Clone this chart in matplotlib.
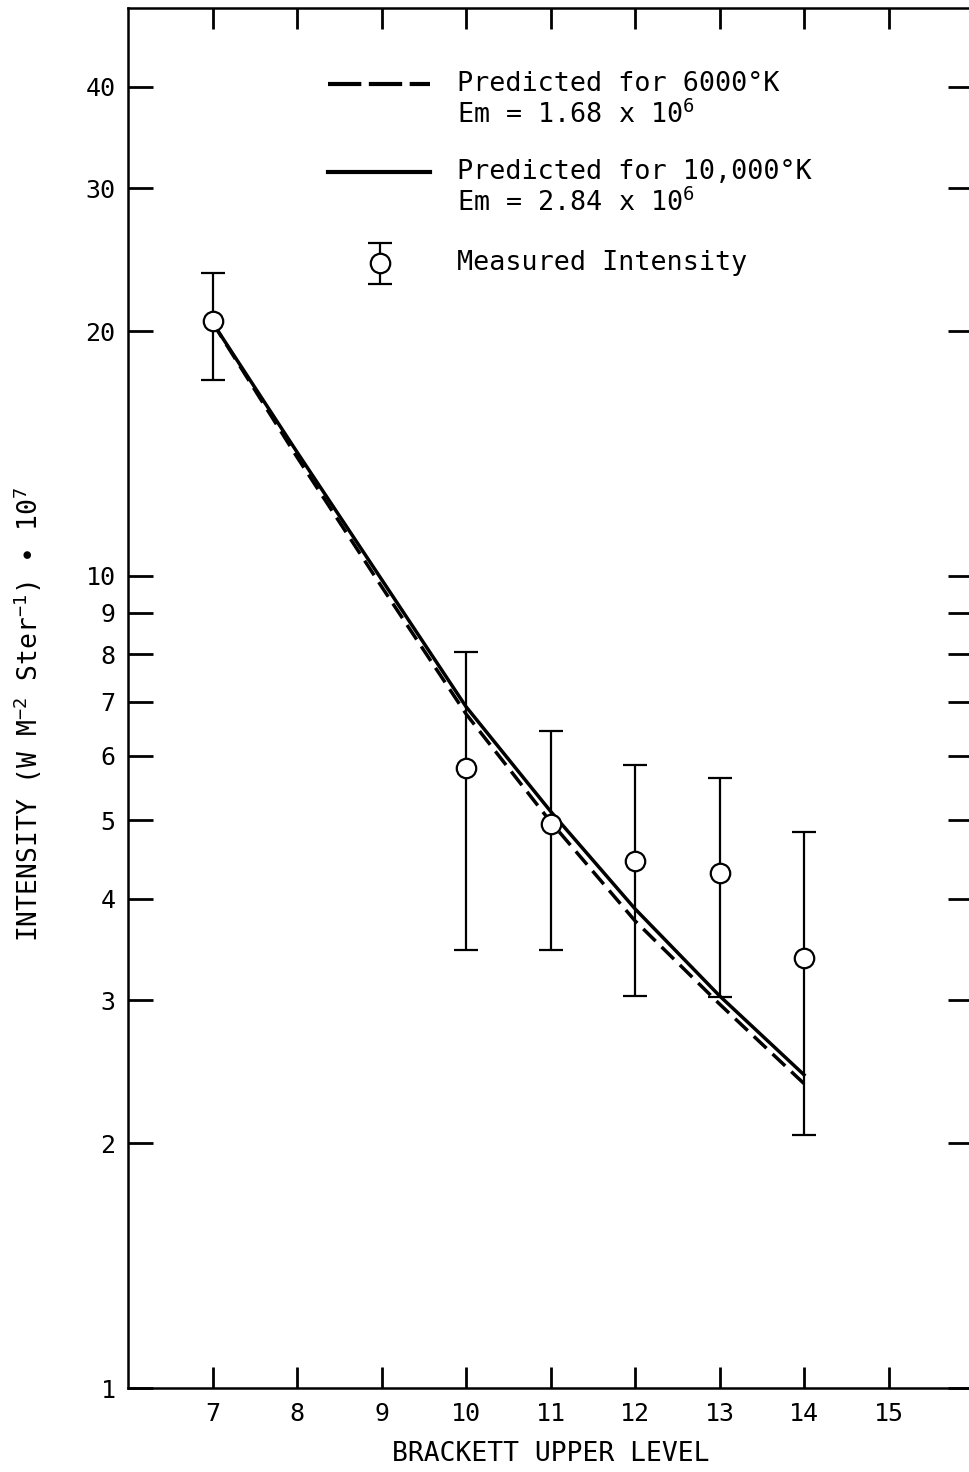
import numpy as np
import matplotlib
matplotlib.use("Agg")
import matplotlib.pyplot as plt
from matplotlib.ticker import FixedLocator, FixedFormatter, NullLocator

plt.rcParams['font.family'] = ['DejaVu Sans Mono', 'DejaVu Sans']
plt.rcParams['mathtext.fontset'] = 'custom'
plt.rcParams['mathtext.rm'] = 'DejaVu Sans Mono'
plt.rcParams['mathtext.it'] = 'DejaVu Sans Mono'

# measured Brackett line intensities with error bars
levels = [7, 10, 11, 12, 13, 14]
measured = [20.6, 5.8, 4.95, 4.46, 4.30, 3.38]
err_hi = [23.6, 8.06, 6.44, 5.84, 5.63, 4.83]
err_lo = [17.4, 3.46, 3.46, 3.04, 3.03, 2.05]

# predicted curves
pred_levels = [7, 8, 9, 10, 11, 12, 13, 14]
pred_6000 = [20.5, 14.0, 9.7, 6.76, 4.98, 3.76, 2.97, 2.37]
pred_10000 = [20.5, 14.2, 9.9, 6.9, 5.13, 3.89, 3.04, 2.43]

yticks = [1, 2, 3, 4, 5, 6, 7, 8, 9, 10, 20, 30, 40]
xticks = [7, 8, 9, 10, 11, 12, 13, 14, 15]

fig = plt.figure(figsize=(9.7, 14.72), dpi=100)
ax = fig.add_axes([128/970, 1 - 1388/1472, 845/970, 1380/1472])

ax.set_yscale('log')
ax.set_xlim(6, 16)
ax.set_ylim(1, 50)

ax.plot(pred_levels, pred_6000, color='black', lw=2.5, ls=(0, (5, 2.4)), zorder=2)
ax.plot(pred_levels, pred_10000, color='black', lw=2.5, zorder=2)

m = np.array(measured)
yerr = [m - np.array(err_lo), np.array(err_hi) - m]
ax.errorbar(levels, measured, yerr=yerr, fmt='o', color='black',
            mfc='white', mec='black', ms=14, mew=1.6,
            elinewidth=1.6, capsize=8.5, capthick=2.2, zorder=3)

# ticks
ax.yaxis.set_major_locator(FixedLocator(yticks))
ax.yaxis.set_major_formatter(FixedFormatter([str(v) for v in yticks]))
ax.yaxis.set_minor_locator(NullLocator())
ax.set_xticks(xticks)
ax.set_xticklabels([str(v) for v in xticks])
ax.tick_params(axis='y', which='major', direction='in', length=18, width=2,
               left=True, right=True, labelsize=18, pad=9)
ax.tick_params(axis='x', which='major', direction='in', length=15, width=2,
               top=True, bottom=True, labelsize=18, pad=10)

for s in ax.spines.values():
    s.set_linewidth(1.8)

ax.set_xlabel('BRACKETT UPPER LEVEL', fontsize=19, labelpad=11)
ax.set_ylabel(r'INTENSITY (W M$^{-2}$ Ster$^{-1}$) $\bullet$ 10$^{7}$',
              fontsize=19)
ax.yaxis.set_label_coords(-0.099, 0.488)

# legend, drawn by hand so the keys sit on the first text line
tr = ax.transAxes
ax.plot([0.2367, 0.3574], [0.9449, 0.9449], transform=tr, color='black',
        lw=3, ls=(0, (8, 1.8)))
ax.plot([0.2367, 0.3574], [0.8812, 0.8812], transform=tr, color='black', lw=3)
ax.errorbar([0.298], [0.8152], yerr=[[0.0152], [0.0148]], transform=tr,
            fmt='o', color='black', mfc='white', mec='black', ms=14, mew=1.6,
            elinewidth=1.6, capsize=8.5, capthick=2.2)

tx = 0.3893
lines = [
    (0.9449, 'Predicted for 6000°K'),
    (0.9225, r'Em = 1.68 x 10$^{6}$'),
    (0.8812, 'Predicted for 10,000°K'),
    (0.8587, r'Em = 2.84 x 10$^{6}$'),
    (0.8152, 'Measured Intensity'),
]
for fy, s in lines:
    ax.text(tx, fy, s, transform=tr, fontsize=19.3, va='center', ha='left')

fig.savefig('out.png', dpi=100)
